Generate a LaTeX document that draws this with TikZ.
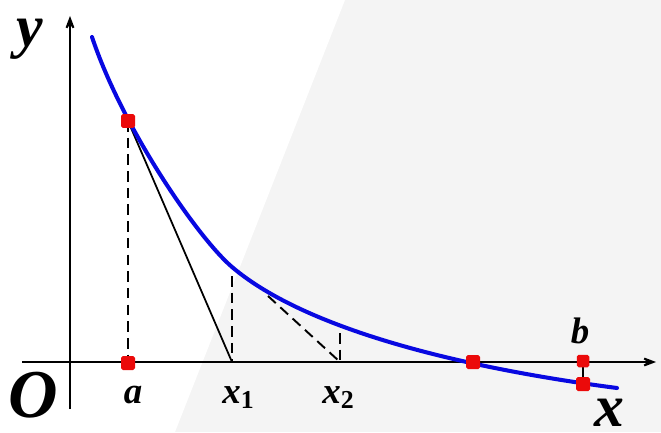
\documentclass[tikz,border=0pt]{standalone}
\usepackage{fontspec}
\setmainfont{Liberation Serif}
\usetikzlibrary{arrows.meta,positioning,calc}
\definecolor{curveblue}{RGB}{8,8,225}
\definecolor{dotred}{RGB}{235,10,10}
\definecolor{paper}{RGB}{244,244,244}
\tikzset{
  axis/.style={black, line width=1.1pt, -{Stealth[length=4.2mm,width=3.2mm,inset=2.6mm]}},
  graph/.style={curveblue, line width=2.3pt, line cap=round},
  guide/.style={black, line width=1.1pt, dash pattern=on 6pt off 3.5pt},
  touch/.style={black, line width=1pt},
  dot/.style={fill=dotred, draw=none, rounded corners=1pt, minimum size=2.8mm, inner sep=0pt},
  smalldot/.style={dot, minimum size=2.5mm},
  lab/.style={font=\fontsize{21}{21}\selectfont\bfseries\itshape, inner sep=0pt, anchor=base},
  biglab/.style={font=\fontsize{34}{34}\selectfont\bfseries\itshape, inner sep=0pt, anchor=base},
}
\begin{document}
\begin{tikzpicture}[x=0.02cm,y=-0.02cm]
  % backdrop
  \fill[paper] (0,0) rectangle (661,432);
  \fill[white] (0,0) -- (345,0) -- (175,432) -- (0,432) -- cycle;
  \useasboundingbox (0,0) rectangle (661,432);

  % points
  \coordinate (A) at (128,121);
  \coordinate (Aax) at (128,363);
  \coordinate (P1) at (232,276);
  \coordinate (X1) at (232,362);
  \coordinate (T2) at (268,296);
  \coordinate (P2) at (340,333);
  \coordinate (X2) at (340,362);
  \coordinate (Z) at (473,362);
  \coordinate (B) at (583,361);
  \coordinate (Bc) at (583,384);

  % axes
  \draw[axis] (22,362) -- (656,362);
  \draw[axis] (70,409) -- (70,16);

  % guide lines and tangents
  \draw[guide] (A) -- (Aax);
  \draw[touch] (A) -- (X1);
  \draw[guide] (P1) -- (X1);
  \draw[guide] (T2) -- (X2);
  \draw[guide] (P2) -- (X2);
  \draw[touch] (B) -- (Bc);

  % the function
  \draw[graph] (92,37) .. controls (122,127) and (197,237) .. (232,267)
    .. controls (307,330.75) and (467,368.5) .. (617,388);

  \node[dot] (da) at (A) {};
  \node[dot] (dax) at (Aax) {};
  \node[dot] (dz) at (Z) {};
  \node[smalldot] (db) at (B) {};
  \node[dot] (dbc) at (Bc) {};

  % labels
  \node[biglab] (ylab) at (30,47) {y};
  \node[biglab] (xlab) at (609,426) {x};
  \node[biglab,font=\fontsize{39}{39}\selectfont\bfseries\itshape] (olab) at (33,417) {O};
  \node[lab] (alab) at (133,403) {a};
  \node[lab,anchor=base west] (x1lab) at (222,403) {x$_{\mathbf 1}$};
  \node[lab,anchor=base west] (x2lab) at (322,403) {x$_{\mathbf 2}$};
  \node[lab] (blab) at (580,343) {b};
\end{tikzpicture}
\end{document}
